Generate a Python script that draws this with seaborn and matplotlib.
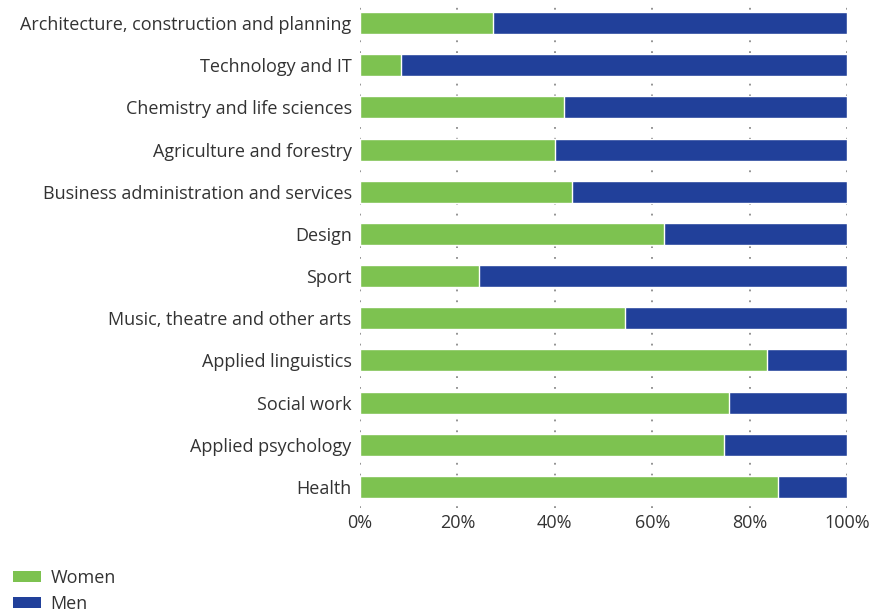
import matplotlib
matplotlib.use("Agg")
import matplotlib.pyplot as plt
import seaborn as sns
import pandas as pd
from matplotlib.patches import Patch

categories = [
    "Architecture, construction and planning",
    "Technology and IT",
    "Chemistry and life sciences",
    "Agriculture and forestry",
    "Business administration and services",
    "Design",
    "Sport",
    "Music, theatre and other arts",
    "Applied linguistics",
    "Social work",
    "Applied psychology",
    "Health",
]
women = [27.3, 8.4, 41.9, 40.0, 43.5, 62.4, 24.4, 54.4, 83.6, 75.8, 74.7, 85.8]
men = [100 - w for w in women]
xticks = [0, 20, 40, 60, 80, 100]
xtick_labels = ["0%", "20%", "40%", "60%", "80%", "100%"]

GREEN = "#7DC250"
BLUE = "#21409A"

sns.set_theme(style="white")
plt.rcParams["font.family"] = ["Open Sans", "DejaVu Sans"]

df = pd.DataFrame({"category": categories, "women": women, "men": men})
df["total"] = df["women"] + df["men"]

fig = plt.figure(figsize=(8.81, 6.13), dpi=100)
ax = fig.add_axes([360 / 881, 1 - 508 / 613, 487 / 881, 506 / 613])

sns.barplot(data=df, x="total", y="category", orient="h", color=BLUE,
            saturation=1, width=0.52, edgecolor="white", linewidth=1.0, ax=ax)
sns.barplot(data=df, x="women", y="category", orient="h", color=GREEN,
            saturation=1, width=0.52, edgecolor="white", linewidth=1.0, ax=ax)

ax.set_xlim(0, 100)
ax.set_ylim(11.5, -0.5)
ax.set_xticks(xticks)
ax.set_xticklabels(xtick_labels)
ax.set_xlabel("")
ax.set_ylabel("")
for s in ax.spines.values():
    s.set_visible(False)
ax.tick_params(axis="both", length=0, labelsize=13, colors="#333333", pad=4)
ax.tick_params(axis="y", pad=6)
ax.set_axisbelow(True)
ax.xaxis.grid(True, linestyle=(0, (1, 5)), color="#8a8a8a", linewidth=1.3)
ax.yaxis.grid(False)

handles = [Patch(facecolor=GREEN, edgecolor="none", label="Women"),
           Patch(facecolor=BLUE, edgecolor="none", label="Men")]
fig.legend(handles=handles, loc="lower left", bbox_to_anchor=(-0.004, -0.027),
           frameon=False, fontsize=13, handlelength=1.55, handleheight=0.55,
           labelspacing=0.45, handletextpad=0.55, labelcolor="#333333")

fig.savefig("out.png", dpi=100)
